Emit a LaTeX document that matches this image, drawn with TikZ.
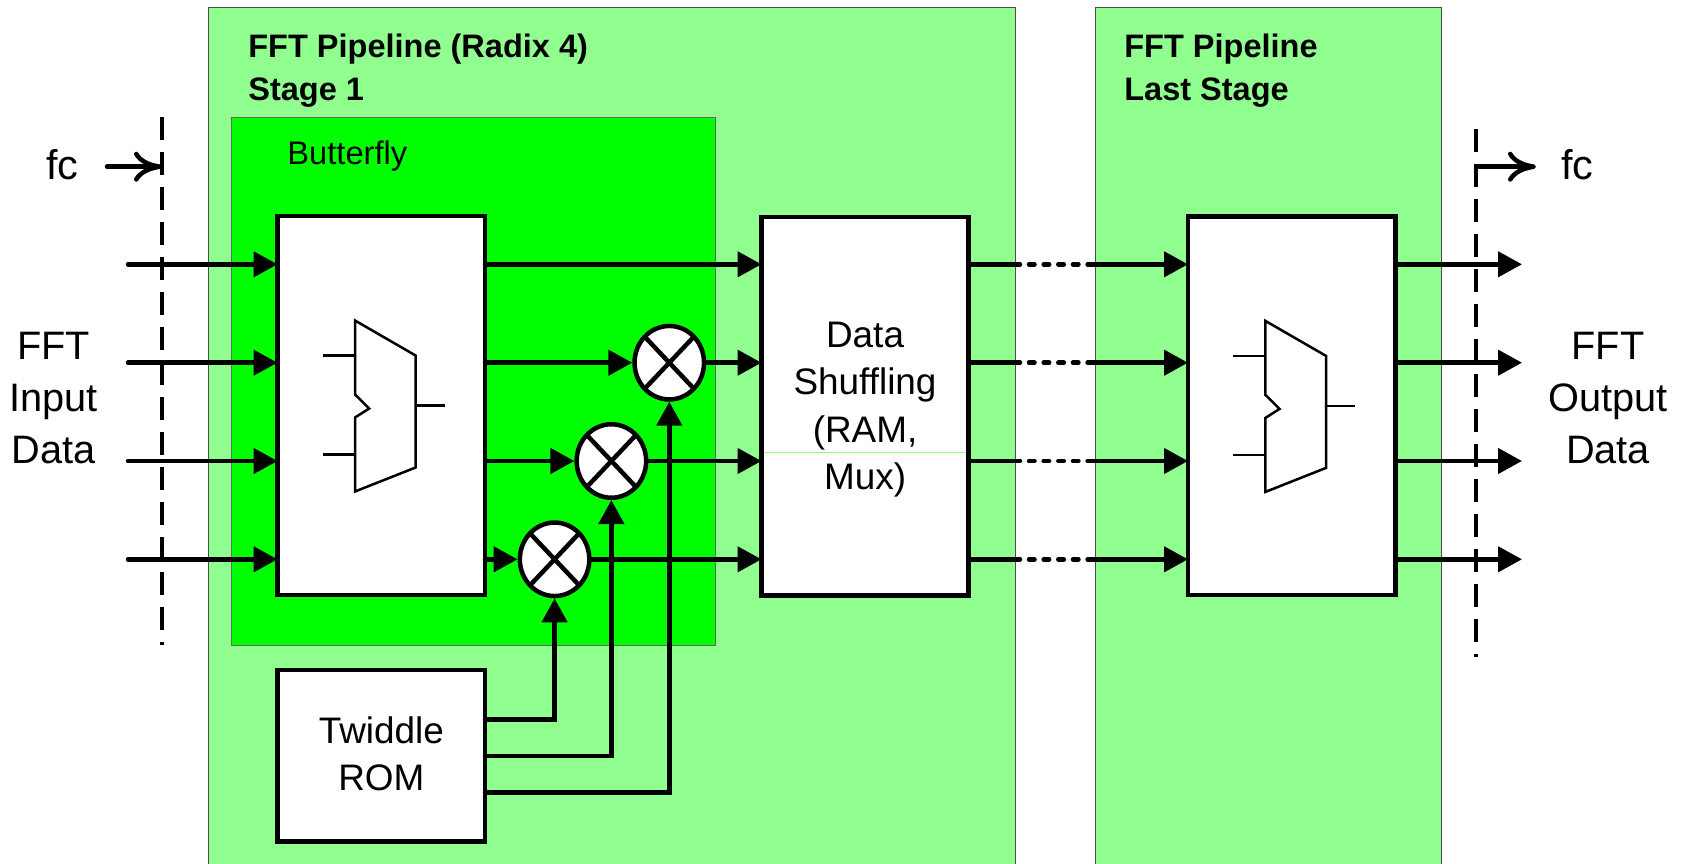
\documentclass[tikz,border=0pt]{standalone}
\usepackage{fontspec}
\setmainfont{Liberation Sans}
\usetikzlibrary{arrows.meta,fit,shapes.geometric}
\definecolor{stagegreen}{HTML}{90FF90}
\definecolor{bflygreen}{HTML}{00FF00}
\tikzset{
  stagebox/.style={draw=black!70,line width=.2mm,fill=stagegreen,inner sep=0pt},
  bflybox/.style={draw=black!60,line width=.2mm,fill=bflygreen,inner sep=0pt},
  block/.style={draw,line width=.9mm,fill=white,inner sep=0pt,outer sep=0pt},
  blocklab/.style={align=center,inner sep=0pt,font=\fontsize{21}{26.9}\selectfont},
  mult/.style={draw,ellipse,line width=.9mm,fill=white,inner sep=0pt,minimum width=13.9mm,minimum height=14.7mm,
    path picture={\draw[line width=.9mm] (path picture bounding box.north west) -- (path picture bounding box.south east)
      (path picture bounding box.north east) -- (path picture bounding box.south west);}},
  signal/.style={line width=.9mm,line cap=round,-{Triangle[length=4.8mm,width=5mm]}},
  wire/.style={line width=.9mm,line cap=round},
  dotlink/.style={line width=.9mm,line cap=round,dash pattern=on 1.1mm off 1.83mm},
  clockcut/.style={line width=.64mm,dash pattern=on 4.6mm off 2.4mm},
  fcarrow/.style={line width=.9mm,line cap=round,-{Computer Modern Rightarrow[length=5.6mm,width=6mm]}},
  biglab/.style={align=center,font=\fontsize{22.6}{29.8}\selectfont},
  fclab/.style={anchor=base,inner sep=0pt,font=\fontsize{23.6}{29.8}\selectfont},
  stagelab/.style={align=left,anchor=north west,inner sep=0pt,font=\fontsize{18.5}{24.4}\selectfont\bfseries},
  mux/.pic={
    \draw[line width=.5mm] (0,0) -- (60.6,35) -- (60.6,147) -- (0,171) -- (0,97) -- (14.2,88) -- (0,74) -- cycle;
    \draw[line width=.5mm] (-32,35) -- (0,35) (-32,134) -- (0,134) (60.6,85) -- (90,85);
  }
}
\begin{document}
\begin{tikzpicture}[x=.2mm,y=-.2mm]
\useasboundingbox (0,0) rectangle (1683,864);
% Stages
\node[stagebox,fit={(208,7)(1015,872)}] (stone) {};
\node[stagebox,fit={(1095.7,7)(1441,872)}] (stlast) {};
\node[bflybox,fit={(231.5,117.5)(715.7,645.7)}] (bfarea) {};
\node[stagelab] (stonelab) at (248,33.5) {FFT Pipeline (Radix 4)\\Stage 1};
\node[stagelab] (stlastlab) at (1124,33.5) {FFT Pipeline\\Last Stage};
\node[anchor=base west,inner sep=0pt,font=\fontsize{18.6}{24}\selectfont] (bflab) at (287,164) {Butterfly};
%%%
% Blocks
\node[block,fit={(277.5,216)(485,595)}] (bfly) {};
\node[block,fit={(761.5,217)(968.6,595.7)}] (shuf) {};
\node[block,fit={(1188,216.5)(1395.5,595)}] (laststage) {};
\node[block,fit={(277.7,670)(485,841.7)}] (rom) {};
\node[blocklab] (shuflab) at ([yshift=-1.8pt]shuf.center) {Data\\Shuffling\\(RAM,\\Mux)};
\node[blocklab] (romlab) at ([yshift=1.2pt]rom.center) {Twiddle\\ROM};
\draw[stagegreen,line width=.2mm] (764,452.3) -- (966,452.3);
\pic at (355,320.5) {mux};
\pic at (1265.4,320.9) {mux};
%%%
\node[mult] (mone) at (669.3,362.7) {};
\node[mult] (mtwo) at (611.4,461) {};
\node[mult] (mthree) at (554.6,559.3) {};
%%%
% Clock cuts
\coordinate (cuttop) at (162,117);
\coordinate (cutbot) at (162,645);
\coordinate (cuttopr) at (1476,129);
\coordinate (cutbotr) at (1476,657);
\draw[clockcut] (cuttop) -- (cutbot);
\draw[clockcut] (cuttopr) -- (cutbotr);
\coordinate (fcin) at (107,166.7);
\coordinate (fcout) at (1536,166.7);
\draw[fcarrow] (fcin) -- (fcin -| cuttop);
\draw[fcarrow] (fcout -| cuttopr) -- (fcout);
\node[fclab] (fcleft) at (62.5,179) {fc};
\node[fclab] (fcright) at (1577.5,179) {fc};
%%%
% Data paths
\foreach \row/\y in {1/264.3,2/362.7,3/461,4/559.3}{
  \coordinate (in\row) at (128,\y);
  \coordinate (out\row) at (1522,\y);
  \coordinate (gapa\row) at (1020,\y);
  \coordinate (gapb\row) at (1029,\y);
  \coordinate (gapc\row) at (1092,\y);
  \draw[signal] (in\row) -- (in\row -| bfly.west);
  \draw[wire] (in\row -| shuf.east) -- (gapa\row);
  \draw[dotlink] (gapb\row) -- (gapc\row);
  \draw[signal] (gapc\row) -- (in\row -| laststage.west);
  \draw[signal] (in\row -| laststage.east) -- (out\row);
}
\draw[signal] (in1 -| bfly.east) -- (in1 -| shuf.west);
\foreach \row/\m in {2/mone,3/mtwo,4/mthree}{
  \draw[signal] (in\row -| bfly.east) -- (\m.west);
  \draw[signal] (\m.east) -- (in\row -| shuf.west);
}
%%%
% Twiddle factors
\coordinate (twone) at (485,719.3);
\coordinate (twtwo) at (485,756);
\coordinate (twthree) at (485,792.7);
\draw[signal] (twone) -| (mthree.south);
\draw[signal] (twtwo) -| (mtwo.south);
\draw[signal] (twthree) -| (mone.south);
%%%
\node[biglab] (inlab) at (53.7,398) {FFT\\Input\\Data};
\node[biglab] (outlab) at (1608,398) {FFT\\Output\\Data};
\end{tikzpicture}
\end{document}
